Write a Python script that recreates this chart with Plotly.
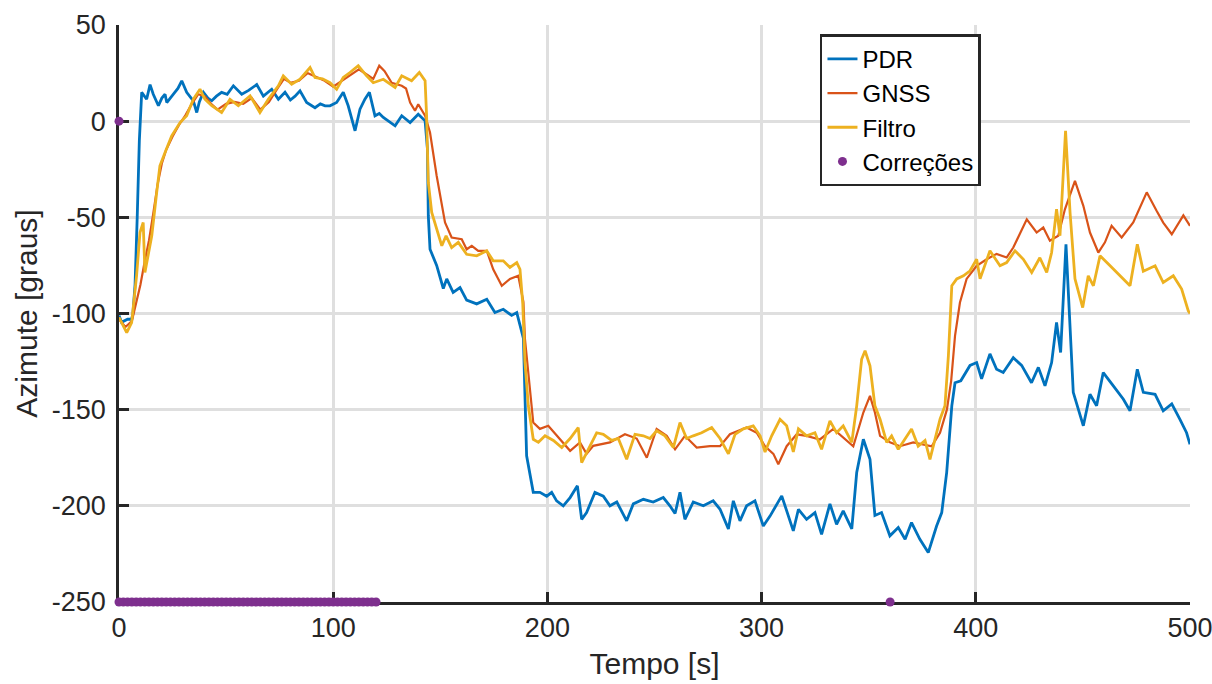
import plotly.graph_objects as go

# ---------------- data ----------------
pdr_t = [0, 1.2, 4, 5.9, 6.5, 7.5, 8.5, 9.5, 10.6, 12.9, 14.5, 16, 18.4, 20, 21.5, 22.3, 25.4, 27.5, 29.3,
         31.6, 34.7, 36.3, 37.5, 39.4, 41.5, 43.3, 45.5, 47.9, 50.5, 53.4, 57.3, 60.5, 64.3, 67.4, 71.3, 74.4,
         77.5, 80, 82.2, 84.5, 87.6, 91.5, 94, 96.2, 98.5, 101.6, 104.7, 107, 110.2, 112.5, 114.8, 116.9, 119.5,
         121.5, 123.4, 126, 128.9, 132, 135.9, 139.7, 142.9, 144, 144.4, 145.2, 148.3, 151.4, 153, 156, 159.2,
         162.3, 167, 171.7, 175.5, 179.4, 183.3, 185.7, 187.2, 188.8, 190.3, 193.4, 196.5, 199.7, 202, 204.3,
         207.4, 210.6, 214, 216, 218.3, 222.2, 226.1, 229.2, 232.4, 237, 240.1, 244.8, 249.4, 254.1, 257.2,
         259.6, 261.9, 264.2, 268.1, 272.8, 277.4, 280.6, 284.5, 286.8, 289.9, 293, 296.9, 300.8, 304, 309.4,
         314.8, 317.2, 321, 324.9, 328, 331.9, 335, 338.1, 342.1, 344.4, 347.5, 350.6, 352.9, 356, 359.9, 363.8,
         367, 370, 373.9, 377.8, 381.7, 384.1, 386.4, 388.8, 390.3, 393, 397.3, 400.4, 402.7, 406.6, 409.7,
         412.8, 417.5, 421.4, 426, 429.2, 432.3, 435.4, 437.7, 439.6, 442.1, 444, 445.5, 450.2, 453.3, 456.4,
         459.5, 464.2, 468.9, 472, 475.4, 478.2, 483.7, 487.5, 491.5, 495.3, 498.4, 500]
pdr_y = [-101, -104.6, -103, -103, -100, -85, -50, -10, 15, 11.4, 19, 14, 8, 12, 14, 9.7, 14, 17, 21,
         15, 10.6, 4.5, 10, 15, 12, 10.6, 13, 15, 14, 18.4, 14, 16, 19, 13, 16.6, 11.4,
         15, 11, 13, 15.8, 9.7, 7, 9, 8, 8, 9.7, 15, 8, -5, 6.2, 11.4, 15, 2.8,
         4, 1.9, 0, -2.4, 2.8, -0.7, 3.6, 0.2, -14.6, -49, -66.6, -75, -87, -82, -89, -86.5,
         -93, -95, -92.6, -99.5, -97.8, -101, -99.5, -106, -113, -174, -193, -193, -195, -193, -197.4,
         -200, -195.7, -189.6, -207, -203.5, -193, -195, -200, -198, -207.8, -199, -196.6, -198, -195.7, -200,
         -204, -193, -207, -198, -200, -197.4, -201.8, -212, -197.4, -207.8, -200, -197.4, -210.5, -205.2, -194.8,
         -213, -201.8, -207, -203.5, -214.8, -199, -209.6, -202.6, -212, -182.7, -165.4, -175.8, -205, -203.5, -215.6, -211.3,
         -217.4, -208.7, -217.4, -224.3, -210.5, -203.5, -182.7, -148, -136, -135, -127, -125.5, -134, -121, -129,
         -130.7, -123, -127, -136, -128, -137.6, -125.5, -104.7, -120.3, -64, -108, -141, -158.4, -142, -148,
         -130.7, -137.6, -144.6, -150.6, -129, -141, -142, -150.6, -147, -155, -162, -168]

gnss_t = [0, 3, 6, 8, 10, 12, 14, 16, 18, 20, 22, 25, 28, 31, 34, 37, 40, 43, 46, 50, 54, 58, 62, 66, 70,
          74, 77, 80, 84, 88, 92, 96, 100, 104, 108, 112, 116, 118.7, 121.5, 124, 127.3, 132, 134, 135.9,
          138.2, 139.7, 142.9, 145.2, 148.3, 152.2, 155.3, 160, 162.3, 164.7, 167.7, 171.7, 174.7, 178.7,
          182.5, 186.4, 188.8, 189.5, 193.4, 196.5, 200.4, 204.3, 210.6, 215.2, 218.3, 221.4, 229.2, 236.2,
          241.7, 246.4, 251, 255.7, 259.6, 264.2, 269.7, 275.9, 280.6, 285.2, 293, 297.7, 301.6, 305.5,
          307.8, 311.7, 316.4, 321, 327.2, 333.5, 337.4, 342.8, 347.5, 350.6, 352.9, 355.3, 359.9, 364.6,
          370.8, 375.5, 379.4, 383.3, 386.5, 388.5, 390.3, 392.6, 395.7, 400.4, 405.1, 409.7, 414.4, 417.5,
          423.8, 428.4, 431.5, 434.6, 438.5, 441.6, 446.3, 450.2, 453.3, 457.2, 460.3, 463.4, 468.1, 473.5,
          479.8, 484.4, 487.5, 491.5, 496.9, 500]
gnss_y = [-103, -107, -104, -95, -85, -73, -62, -48, -33, -22, -15, -8, -2, 3, 9, 14, 13, 9, 6, 9, 10, 9, 12, 6, 10,
          17, 22, 20, 21, 25, 23, 21, 18, 21, 24, 27, 24, 22, 28.8, 26, 20, 18.4, 17, 9.7,
          5.4, 8.8, 2.8, -5.9, -28.4, -52.7, -60.5, -61.4, -66.6, -64.8, -67.4, -67.4, -77, -85.6,
          -82, -80.4, -94, -113, -156.7, -160, -158.4, -163.6, -171.4, -167, -173, -168.8, -167, -162.8,
          -165, -175, -160, -163.6, -170.6, -163.6, -169.7, -169, -169, -162.8, -159.3, -162, -169, -173,
          -178.4, -169, -162.8, -163.6, -165.5, -160, -163.6, -169, -151.5, -142.8, -151.5, -163.6, -167, -169,
          -167, -168, -169, -162, -150, -135, -111.6, -94.3, -82, -75.2, -71.8, -69, -70.9, -65.7,
          -51, -57.9, -55.3, -62.2, -59.6, -45.8, -31, -44, -57.9, -68.3, -63, -54.4, -60.5, -52.7,
          -37, -46.6, -52.7, -58.8, -49, -54.4]

filtro_t = [0, 3.6, 5.9, 8.2, 9.8, 11.3, 12.1, 13.7, 15.3, 17.6, 19.1, 21.5, 24.6, 28.5, 31.6, 34.7, 37.8,
            40.1, 43.3, 47.9, 51.8, 55.7, 61.2, 65.8, 69.7, 74.4, 76.7, 80.6, 84.5, 89.2, 91.5, 95, 98.5,
            101.6, 104.7, 107.8, 111.7, 115.6, 118.7, 123.4, 128.9, 132, 136.6, 140.2, 142.9, 143.6, 144.4,
            146, 148.3, 150.7, 152.7, 155.3, 158.4, 162.3, 167, 171.7, 174.7, 179.4, 182.5, 185.7, 187.2,
            188.5, 189.5, 191.1, 193.4, 195.8, 198.9, 202.8, 206.7, 210.6, 214.4, 216, 219.1, 223, 226.1,
            230, 233.1, 237, 240.9, 244.8, 247.9, 251, 254.9, 258.8, 261.9, 265, 268.1, 272, 276.7, 280.6,
            284.5, 287.6, 291.5, 296.1, 299.3, 301.6, 304.7, 308.6, 311.7, 314.8, 317.2, 321, 324.9, 328,
            331.9, 335, 338.1, 342.1, 344.4, 346.7, 348.3, 350.6, 352.9, 355.3, 358.4, 360.7, 363.8, 367,
            370, 373.1, 376.3, 378.6, 380.9, 383.3, 385.6, 387.2, 388.8, 391.1, 394.2, 397.3, 400.4, 402,
            406.6, 411.3, 414.4, 418.3, 422.2, 426.1, 429.9, 433.1, 435.4, 437.7, 439.3, 441.9, 444, 446.3,
            449.9, 452.5, 454.9, 458, 462.7, 467.3, 472, 475.4, 478.2, 483.7, 487.5, 492.2, 496.1, 499.2, 500]
filtro_y = [-102, -110, -104.7, -80.4, -57.9, -52.7, -78.7, -68.3, -59.6, -37, -23.2, -16.3, -7.6, -0.7, 2.8, 11.4, 16.6,
            11.4, 8, 4.5, 11.4, 8, 13.2, 4.5, 11.4, 18.4, 23.6, 19.2, 21.8, 27.9, 22.7, 22, 20,
            16.6, 22.7, 25.3, 28.8, 23.6, 20, 21.8, 17.5, 23.6, 21, 25.3, 21, 2.8, -31.9,
            -47.5, -56.2, -64.8, -59.6, -65.7, -63, -69.2, -70, -67.4, -72.6, -72.6, -76, -73.5, -77,
            -95, -125, -148, -165.4, -167, -163.6, -166, -169.7, -165, -159.3, -177.5, -170.6, -162, -162.8,
            -166, -165, -175.8, -162.8, -163.6, -165, -161, -163.6, -169.7, -156.7, -165, -163.6, -162, -159.3, -165,
            -173, -162.8, -160, -158.4, -163.6, -172, -163.6, -155, -158.4, -172, -160, -163.6, -162, -170.6,
            -155.8, -162, -158.4, -167, -148, -123.8, -119.4, -127.2, -148, -155, -167, -163.6, -170.6, -165,
            -160, -169, -166, -175.8, -165, -155, -148, -122, -85.6, -82, -80.4, -77.8, -71.8, -82,
            -67.4, -75.2, -73.5, -67.4, -71.8, -78.7, -71, -78.7, -68.3, -45.8, -59.6, -5, -47.5, -82,
            -96.9, -80.4, -85.6, -70, -75.2, -80.4, -85.6, -64, -78, -75.2, -83.9, -80.4, -87.3, -98.6, -100]

corr_t = [0, 0, 2, 4, 6, 8, 10, 12, 14, 16, 18, 20, 22, 24, 26, 28, 30, 32, 34, 36, 38, 40, 42, 44, 46, 48,
          50, 52, 54, 56, 58, 60, 62, 64, 66, 68, 70, 72, 74, 76, 78, 80, 82, 84, 86, 88, 90, 92, 94, 96,
          98, 100, 102, 104, 106, 108, 110, 112, 114, 116, 118, 120, 360]
corr_y = [0] + [-250] * 62

x_ticks = [0, 100, 200, 300, 400, 500]
y_ticks = [-250, -200, -150, -100, -50, 0, 50]
y_ticktext = ["-250", "-200", "-150", "-100", "-50", "0", "50"]

# ---------------- style ----------------
FONT = "Liberation Sans, Arial, Helvetica, sans-serif"
TXT = "#262626"
C_PDR, C_GNSS, C_FIL, C_COR = "#0072BD", "#D95319", "#EDB120", "#7E2F8E"

fig = go.Figure()
fig.add_trace(go.Scatter(x=pdr_t, y=pdr_y, mode="lines", name="PDR",
                         line=dict(color=C_PDR, width=2.8)))
fig.add_trace(go.Scatter(x=gnss_t, y=gnss_y, mode="lines", name="GNSS",
                         line=dict(color=C_GNSS, width=2.2)))
fig.add_trace(go.Scatter(x=filtro_t, y=filtro_y, mode="lines", name="Filtro",
                         line=dict(color=C_FIL, width=2.8)))
fig.add_trace(go.Scatter(x=corr_t, y=corr_y, mode="markers", name="Correções",
                         marker=dict(color=C_COR, size=9), cliponaxis=False))

axis_common = dict(
    showline=True, linecolor=TXT, linewidth=2.5, mirror=False,
    ticks="inside", ticklen=10, tickwidth=2.5, tickcolor=TXT,
    showgrid=True, gridcolor="#dfdfdf", gridwidth=2.5, zeroline=False,
    tickfont=dict(family=FONT, size=27, color=TXT),
    layer="below traces", automargin=False, ticklabeloverflow="allow",
)

fig.update_layout(
    width=1212, height=684,
    margin=dict(l=119, r=22, t=25, b=82),
    paper_bgcolor="white", plot_bgcolor="white",
    font=dict(family=FONT, color=TXT),
    xaxis=dict(range=[0, 500], tickvals=x_ticks,
               title=dict(text="Tempo [s]", font=dict(family=FONT, size=30, color=TXT), standoff=11),
               **axis_common),
    yaxis=dict(range=[-250, 50], tickvals=y_ticks, ticktext=y_ticktext,
               ticklabelstandoff=5,
               title=dict(text="Azimute [graus]", font=dict(family=FONT, size=30, color=TXT), standoff=6),
               **axis_common),
    legend=dict(x=0.6545, y=0.984, xanchor="left", yanchor="top",
                bgcolor="white", bordercolor=TXT, borderwidth=2.5,
                font=dict(family=FONT, size=24, color="black"),
                itemwidth=30, tracegroupgap=0),
    showlegend=True,
)

fig.write_html("out.html")
